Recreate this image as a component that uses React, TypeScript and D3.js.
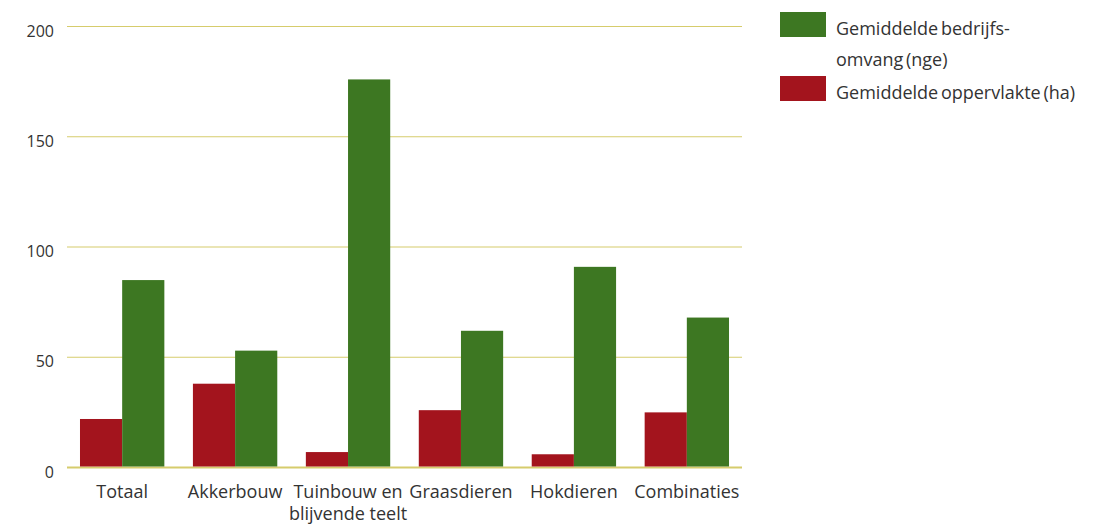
import React, { useEffect, useRef } from 'react';
import * as d3 from 'd3';

const categories = ['Totaal', 'Akkerbouw', 'Tuinbouw en|blijvende teelt', 'Graasdieren', 'Hokdieren', 'Combinaties'];
const oppervlakte = [22, 38, 7, 26, 6, 25];
const omvang = [85, 53, 176, 62, 91, 68];
const yTicks = [0, 50, 100, 150, 200];

const RED = '#a3141d';
const GREEN = '#3d7722';
const GRID = '#d6cc6c';
const FONT = "'Open Sans', Lato, sans-serif";

const App: React.FC = () => {
  const svgRef = useRef<SVGSVGElement>(null);

  useEffect(() => {
    if (!svgRef.current) return;
    const svg = d3.select(svgRef.current);
    svg.selectAll('*').remove();

    const left = 67;
    const right = 742;
    const top = 26.5;
    const bottom = 467.5;

    const x = d3.scaleBand<string>()
      .domain(categories)
      .range([left, right])
      .paddingInner(0.253)
      .paddingOuter(0.115);
    const inner = d3.scaleBand<string>()
      .domain(['opp', 'omv'])
      .range([0, x.bandwidth()]);
    const y = d3.scaleLinear().domain([0, 200]).range([bottom, top]);

    // gridlines
    svg.append('g')
      .selectAll('line')
      .data(yTicks)
      .enter()
      .append('line')
      .attr('x1', left)
      .attr('x2', right)
      .attr('y1', d => y(d))
      .attr('y2', d => y(d))
      .attr('stroke', GRID)
      .attr('stroke-width', d => (d === 0 ? 2 : 1.2));

    // y labels
    svg.append('g')
      .selectAll('text')
      .data(yTicks)
      .enter()
      .append('text')
      .attr('x', 54)
      .attr('y', d => y(d) + 10)
      .attr('text-anchor', 'end')
      .style('font-family', FONT)
      .style('font-size', '16px')
      .style('fill', '#333')
      .text(d => String(d));

    // bars
    const groups = svg.append('g')
      .selectAll('g')
      .data(categories)
      .enter()
      .append('g')
      .attr('transform', d => `translate(${x(d)},0)`);

    groups.append('rect')
      .attr('x', inner('opp')!)
      .attr('width', inner.bandwidth())
      .attr('y', (_, i) => y(oppervlakte[i]))
      .attr('height', (_, i) => bottom - 1 - y(oppervlakte[i]))
      .attr('fill', RED);

    groups.append('rect')
      .attr('x', inner('omv')!)
      .attr('width', inner.bandwidth())
      .attr('y', (_, i) => y(omvang[i]))
      .attr('height', (_, i) => bottom - 1 - y(omvang[i]))
      .attr('fill', GREEN);

    // x labels
    const xl = svg.append('g')
      .selectAll('text')
      .data(categories)
      .enter()
      .append('text')
      .attr('x', d => x(d)! + x.bandwidth() / 2)
      .attr('y', 498)
      .attr('text-anchor', 'middle')
      .style('font-family', FONT)
      .style('font-size', '18px')
      .style('fill', '#333');
    xl.each(function (d) {
      const parts = d.split('|');
      const t = d3.select(this);
      parts.forEach((p, i) => {
        t.append('tspan')
          .attr('x', x(d)! + x.bandwidth() / 2)
          .attr('dy', i === 0 ? 0 : 22)
          .text(p);
      });
    });

    // legend
    const legend = [
      { color: GREEN, lines: ['Gemiddelde bedrijfs-', 'omvang (nge)'], y: 12 },
      { color: RED, lines: ['Gemiddelde oppervlakte (ha)'], y: 76 },
    ];
    legend.forEach(l => {
      svg.append('rect')
        .attr('x', 780)
        .attr('y', l.y)
        .attr('width', 46)
        .attr('height', 25)
        .attr('fill', l.color);
      l.lines.forEach((line, i) => {
        svg.append('text')
          .attr('x', 836)
          .attr('y', l.y + 23 + i * 31)
          .style('font-family', FONT)
          .style('font-size', '18px')
          .style('word-spacing', '-2px')
          .style('fill', '#333')
          .text(line);
      });
    });
  }, []);

  return (
    <svg
      ref={svgRef}
      width={1104}
      height={526}
      style={{ position: 'absolute', left: 0, top: 0, background: '#fff' }}
    />
  );
};

export default App;
